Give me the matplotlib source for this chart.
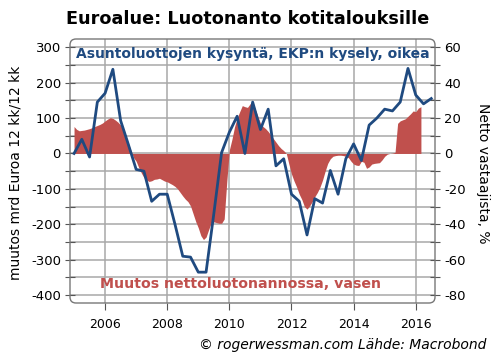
import numpy as np
import matplotlib
matplotlib.use("Agg")
import matplotlib.pyplot as plt
from matplotlib.patches import FancyBboxPatch

# ---- data ----
# monthly change in net lending (left axis, bn EUR), Jan 2005 ...
r2005 = [76, 68, 64, 65, 66, 68, 70, 73, 76, 79, 82, 86]
r2006 = [92, 97, 101, 99, 94, 88, 80, 64, 48, 28, 8, -12]
r2007 = [-22, -40, -55, -68, -75, -79, -77, -73, -72, -70, -74, -78]
r2008 = [-80, -84, -88, -93, -100, -110, -120, -129, -136, -148, -170, -192]
r2009 = [-210, -232, -243, -236, -215, -195, -193, -195, -197, -197, -185, -80]
r2010 = [10, 40, 75, 100, 118, 135, 132, 130, 140, 148, 125, 105]
r2011 = [85, 76, 70, 62, 52, 42, 32, 22, 14, 8, 0, -30]
r2012 = [-58, -78, -95, -115, -130, -150, -157, -148, -136, -122, -110, -95]
r2013 = [-75, -50, -28, -15, -8, -6, -5, -5, -6, -8, -12, -22]
r2014 = [-30, -33, -34, -22, -25, -42, -38, -30, -28, -27, -26, -18]
r2015 = [-8, -2, 0, 1, 3, 85, 92, 95, 98, 105, 112, 120]
r2016 = [118, 128, 132]
lending = r2005 + r2006 + r2007 + r2008 + r2009 + r2010 + r2011 + r2012 + r2013 + r2014 + r2015 + r2016
lending_start = 2005.0

# quarterly ECB survey housing-loan demand (right axis, net %), Q1 2005 ...
demand = [0, 8, -2, 29, 34, 47.5, 18.5, 5, -9, -10, -27, -23, -23, -40, -58, -58.5,
          -67, -67, -34, 0.5, 12, 21, 0, 29, 13.5, 25, -7, -3, -23, -27, -46, -25.5,
          -28, -9.6, -23, -3, 5.4, -4, 16, 20, 25, 24, 29, 48, 33, 28, 31]
demand_start = 2005.0

year_ticks = [2006, 2008, 2010, 2012, 2014, 2016]
left_ticks = [300, 200, 100, 0, -100, -200, -300, -400]
right_ticks = [60, 40, 20, 0, -20, -40, -60, -80]

title = "Euroalue: Luotonanto kotitalouksille"
blue_label = "Asuntoluottojen kysyntä, EKP:n kysely, oikea"
red_label = "Muutos nettoluotonannossa, vasen"
left_ylabel = "muutos mrd Euroa 12 kk/12 kk"
right_ylabel = "Netto vastaajista, %"
credit = "© rogerwessman.com Lähde: Macrobond"

# ---- styling ----
RED = "#c0504d"
BLUE = "#1f4a80"
GRID = "#a8a8a8"

plt.rcParams["font.family"] = ["DejaVu Sans"]

W, H = 496, 361
fig = plt.figure(figsize=(W / 100, H / 100), dpi=100)
ax_l, ax_r, ax_t, ax_b = 70, 435, 39, 303
ax = fig.add_axes([ax_l / W, 1 - ax_b / H, (ax_r - ax_l) / W, (ax_b - ax_t) / H])

xl = (2004.87, 2016.62)
yl = (-422, 323)
ax.set_xlim(*xl)
ax.set_ylim(*yl)

t_red = lending_start + np.arange(len(lending)) / 12.0
ax.fill_between(t_red, 0, lending, color=RED, linewidth=0, zorder=2)

ax.set_axisbelow(True)
yt = np.arange(-400, 301, 50)
ax.set_yticks(yt)
ax.set_yticklabels([str(v) if v % 100 == 0 else "" for v in yt])
ax.set_xticks(year_ticks)
ax.set_xticklabels([str(y) for y in year_ticks])
ax.xaxis.grid(True, color=GRID, linewidth=1.1)
ax.yaxis.grid(True, color=GRID, linewidth=1.1)
for s in ax.spines.values():
    s.set_visible(False)
ax.tick_params(axis="y", direction="inout", length=7, width=0.8, color="#555555",
               labelsize=9.5, pad=3)
ax.tick_params(axis="x", direction="out", length=5, width=0.8, color="#555555",
               labelsize=9, pad=6)

ax2 = ax.twinx()
ax2.set_ylim(yl[0] / 5, yl[1] / 5)
ax2.set_xlim(*xl)
t_blue = demand_start + 0.25 * np.arange(len(demand))
ax2.plot(t_blue, demand, color=BLUE, linewidth=2.0, zorder=3)
rt = np.arange(-80, 61, 10)
ax2.set_yticks(rt)
ax2.set_yticklabels([str(v) if v % 20 == 0 else "" for v in rt])
for s in ax2.spines.values():
    s.set_visible(False)
ax2.tick_params(axis="y", direction="inout", length=7, width=0.8, color="#555555",
                labelsize=9.5, pad=3)

# rounded frame
frame = FancyBboxPatch((ax_l / 100, (H - ax_b) / 100), (ax_r - ax_l) / 100, (ax_b - ax_t) / 100,
                       boxstyle="round,pad=0,rounding_size=0.06",
                       transform=fig.dpi_scale_trans, fill=False,
                       edgecolor="#777777", linewidth=1.0, zorder=10)
fig.add_artist(frame)

ax2.text(0.016, 0.945, blue_label, transform=ax.transAxes, color=BLUE,
         fontsize=10, fontweight="bold", ha="left", va="center", clip_on=True, zorder=5)
ax2.text(0.082, 0.072, red_label, transform=ax.transAxes, color=RED,
         fontsize=10.2, fontweight="bold", ha="left", va="center", zorder=5)

fig.text(248 / W, 1 - 19 / H, title, fontsize=12.7, fontweight="bold",
         ha="center", va="center")
fig.text(16 / W, 1 - 173 / H, left_ylabel, fontsize=10, rotation=90,
         ha="center", va="center")
fig.text(483 / W, 1 - 173 / H, right_ylabel, fontsize=10, rotation=-90,
         ha="center", va="center")
fig.text(486 / W, 1 - 345 / H, credit, fontsize=10, style="italic",
         ha="right", va="center")

fig.savefig("out.png", dpi=100)
